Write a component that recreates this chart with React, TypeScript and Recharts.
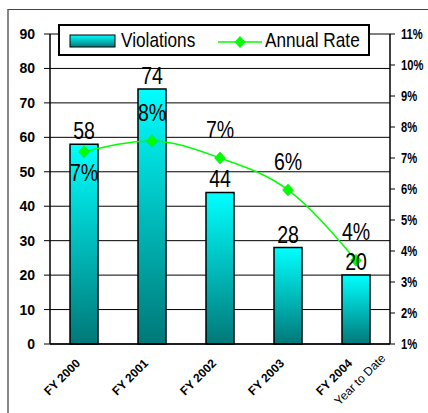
import React from "react";
import {
  ComposedChart,
  Bar,
  Line,
  XAxis,
  YAxis,
  CartesianGrid,
  Legend,
  LabelList,
} from "recharts";

const categories = ["FY 2000", "FY 2001", "FY 2002", "FY 2003", "FY 2004"];
const violations = [58, 74, 44, 28, 20];
const annualRate = [7.2, 7.55, 7.0, 5.97, 3.7];
const leftTicks = [0, 10, 20, 30, 40, 50, 60, 70, 80, 90];
const rightTicks = [1, 2, 3, 4, 5, 6, 7, 8, 9, 10, 11];
const boundaryTicks = [0, 1, 2, 3, 4, 5];
const lastNote = "Year to Date";

const data = categories.map((c, i) => ({
  cat: c,
  violations: violations[i],
  rate: annualRate[i],
}));

const ARIAL = "'Liberation Sans', Arial, sans-serif";

const NText = (props: any) => {
  const { x, y, children, size = 23, weight = "normal", anchor = "middle", sx = 0.85 } = props;
  return (
    <text
      transform={`translate(${x},${y}) scale(${sx},1)`}
      x={0}
      y={0}
      textAnchor={anchor}
      fontFamily={ARIAL}
      fontSize={size}
      fontWeight={weight}
      fill="#000"
    >
      {children}
    </text>
  );
};

const Diamond = (props: any) => {
  const { cx, cy } = props;
  if (cx == null || cy == null) return null;
  return (
    <path
      d={`M${cx},${cy - 6} L${cx + 5.5},${cy} L${cx},${cy + 6} L${cx - 5.5},${cy} Z`}
      fill="#00ff00"
      stroke="#00dd00"
      strokeWidth={0.5}
    />
  );
};

const BarLabel = (props: any) => {
  const { x, y, width, value } = props;
  return (
    <NText x={x + width / 2} y={y - 5}>
      {value}
    </NText>
  );
};

const RateLabel = (props: any) => {
  const { x, y, value, index } = props;
  const below = index === 0;
  return (
    <NText x={x} y={below ? y + 29 : y - 20}>
      {`${Math.round(value)}%`}
    </NText>
  );
};

const RightTick = (props: any) => {
  const { x, y, payload } = props;
  return (
    <NText x={x} y={y + 5} size={14} weight="bold" anchor="start" sx={0.8}>
      {`${payload.value}%`}
    </NText>
  );
};

const CatTick = (props: any) => {
  const { x, y, payload, index } = props;
  const isLast = index === categories.length - 1;
  return (
    <g transform={`translate(${x - 3},${y + 20}) rotate(-45)`}>
      <text
        x={0}
        y={0}
        textAnchor="end"
        fontFamily={ARIAL}
        fontWeight="bold"
        fontSize={12}
        fill="#000"
      >
        {payload.value}
      </text>
      {isLast && (
        <text
          x={27}
          y={20}
          textAnchor="end"
          fontFamily={ARIAL}
          fontSize={12}
          fill="#000"
        >
          {lastNote}
        </text>
      )}
    </g>
  );
};

const LegendBox = () => (
  <svg width={312} height={32} style={{ display: "block" }}>
    <defs>
      <linearGradient id="legGrad" x1="0" y1="0" x2="0" y2="1">
        <stop offset="0%" stopColor="#00ffff" />
        <stop offset="100%" stopColor="#007878" />
      </linearGradient>
    </defs>
    <rect x={1} y={1} width={310} height={30} fill="#fff" stroke="#000" strokeWidth={2} />
    <rect x={12} y={11} width={45} height={12} fill="url(#legGrad)" stroke="#000" strokeWidth={1} />
    <NText x={63} y={23} size={21} anchor="start" sx={0.82}>
      Violations
    </NText>
    <line x1={160} y1={18} x2={204} y2={18} stroke="#00ff00" strokeWidth={1.5} />
    <path d="M182,12 L187.5,18 L182,24 L176.5,18 Z" fill="#00ff00" />
    <NText x={207} y={23} size={21} anchor="start" sx={0.82}>
      Annual Rate
    </NText>
  </svg>
);

export default function App() {
  return (
    <div
      style={{
        position: "fixed",
        left: 0,
        top: 0,
        width: 428,
        height: 413,
        background: "#fff",
        overflow: "hidden",
      }}
    >
      <div
        style={{
          position: "absolute",
          left: 7,
          top: 9,
          width: 430,
          height: 420,
          borderTop: "1px solid #444",
          borderLeft: "2px solid #888",
        }}
      />
      <ComposedChart
        width={428}
        height={413}
        data={data}
        margin={{ top: 34, right: 0, bottom: 0, left: 0 }}
        style={{ position: "absolute", left: 0, top: 0 }}
      >
        <defs>
          <linearGradient id="barGrad" x1="0" y1="0" x2="0" y2="1">
            <stop offset="0%" stopColor="#00ffff" />
            <stop offset="100%" stopColor="#007878" />
          </linearGradient>
        </defs>
        <CartesianGrid
          yAxisId="left"
          xAxisId="cat"
          vertical={false}
          stroke="#000"
          strokeWidth={1}
        />
        <XAxis
          xAxisId="bound"
          type="number"
          domain={[0, 5]}
          ticks={boundaryTicks}
          allowDataOverflow
          height={0}
          tick={false}
          axisLine={false}
          tickLine={{ stroke: "#000", strokeWidth: 1 }}
          tickSize={5}
        />
        <XAxis
          xAxisId="cat"
          dataKey="cat"
          height={69}
          axisLine={{ stroke: "#000", strokeWidth: 1.5 }}
          tickLine={false}
          tickSize={0}
          tickMargin={0}
          interval={0}
          tick={<CatTick />}
        />
        <YAxis
          yAxisId="left"
          domain={[0, 90]}
          ticks={leftTicks}
          width={50}
          interval={0}
          axisLine={{ stroke: "#000", strokeWidth: 1.5 }}
          tickLine={{ stroke: "#000", strokeWidth: 1 }}
          tickSize={6}
          tickMargin={9}
          tick={{ fill: "#000", fontSize: 14, fontWeight: "bold", fontFamily: ARIAL }}
        />
        <YAxis
          yAxisId="right"
          orientation="right"
          domain={[1, 11]}
          ticks={rightTicks}
          width={38}
          interval={0}
          axisLine={{ stroke: "#000", strokeWidth: 1.5 }}
          tickLine={{ stroke: "#000", strokeWidth: 1 }}
          tickSize={5}
          tickMargin={6}
          tick={<RightTick />}
        />
        <Legend
          layout="horizontal"
          verticalAlign="middle"
          align="center"
          wrapperStyle={{ top: 24, left: 58, width: 312, height: 32 }}
          content={<LegendBox />}
        />
        <Bar
          xAxisId="cat"
          yAxisId="left"
          dataKey="violations"
          barSize={28}
          fill="url(#barGrad)"
          stroke="#000"
          strokeWidth={1.5}
          isAnimationActive={false}
        >
          <LabelList dataKey="violations" content={<BarLabel />} />
        </Bar>
        <Line
          xAxisId="cat"
          yAxisId="right"
          type="monotone"
          dataKey="rate"
          stroke="#00ff00"
          strokeWidth={1.5}
          dot={<Diamond />}
          activeDot={false}
          isAnimationActive={false}
        >
          <LabelList dataKey="rate" content={<RateLabel />} />
        </Line>
      </ComposedChart>
    </div>
  );
}
